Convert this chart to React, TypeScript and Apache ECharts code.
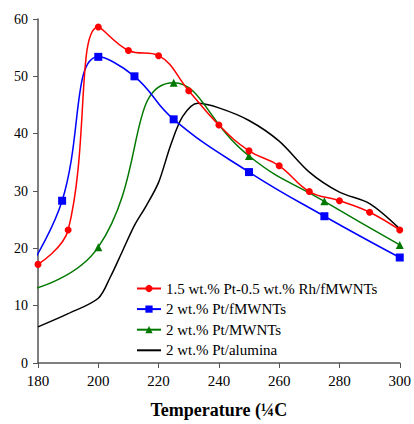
import React, { useEffect, useRef } from "react";
import * as echarts from "echarts";

const seriesNames = [
  "1.5 wt.% Pt-0.5 wt.% Rh/fMWNTs",
  "2 wt.% Pt/fMWNTs",
  "2 wt.% Pt/MWNTs",
  "2 wt.% Pt/alumina",
];

const redX = [180, 190, 200, 210, 220, 230, 240, 250, 260, 270, 280, 290, 300];
const redY = [17.2, 23.2, 58.6, 54.5, 53.6, 47.5, 41.5, 37.0, 34.4, 29.9, 28.3, 26.3, 23.2];

const blueX = [179, 188, 200, 212, 225, 250, 275, 300];
const blueY = [18.2, 28.3, 53.4, 50.0, 42.5, 33.3, 25.6, 18.4];

const greenX = [179, 200, 225, 250, 275, 300];
const greenY = [13.0, 20.2, 48.9, 36.1, 28.2, 20.6];

const blackX = [180, 190, 200, 204, 208, 212, 216, 220, 224, 228, 233, 240, 250, 260, 270, 280, 290, 300];
const blackY = [6.3, 8.6, 11.3, 15.0, 19.5, 24.0, 27.5, 31.5, 38.0, 43.0, 45.3, 44.5, 42.3, 38.7, 33.3, 29.8, 27.8, 23.4];

const xTicks = { min: 180, max: 300, interval: 20 };
const yTicks = { min: 0, max: 60, interval: 10 };

const FONT = "'Liberation Serif', 'Times New Roman', serif";

function pairs(xs: number[], ys: number[], hideFirst: boolean) {
  return xs.map((x, i) =>
    hideFirst && i === 0 ? { value: [x, ys[i]], symbol: "none" } : { value: [x, ys[i]] }
  );
}

export default function App() {
  const ref = useRef<HTMLDivElement>(null);
  useEffect(() => {
    if (!ref.current) return;
    const chart = echarts.init(ref.current, null, { renderer: "svg" });
    const axisLine = { show: true, lineStyle: { color: "#555", width: 1.5 } };
    const common = { type: "line", smoothConstraint: false, clip: false };
    chart.setOption({
      animation: false,
      backgroundColor: "#fff",
      grid: { left: 38, right: 11, top: 19, bottom: 57 },
      legend: {
        orient: "vertical",
        left: 131,
        top: 276,
        padding: 5,
        itemWidth: 24,
        itemHeight: 9,
        itemGap: 5.6,
        textStyle: { fontFamily: FONT, fontSize: 15, color: "#000" },
        data: [
          { name: seriesNames[0] },
          { name: seriesNames[1] },
          { name: seriesNames[2] },
          { name: seriesNames[3], itemStyle: { opacity: 0 } },
        ],
      },
      xAxis: {
        type: "value",
        min: xTicks.min,
        max: xTicks.max,
        interval: xTicks.interval,
        axisLine,
        axisTick: { show: true, inside: false, length: 5, lineStyle: { color: "#555" } },
        splitLine: { show: false },
        axisLabel: { fontFamily: FONT, fontSize: 15, color: "#000", margin: 10 },
        name: "Temperature (¼C",
        nameLocation: "middle",
        nameGap: 38,
        nameTextStyle: { fontFamily: FONT, fontSize: 18, fontWeight: "bold", color: "#000" },
      },
      yAxis: {
        type: "value",
        min: yTicks.min,
        max: yTicks.max,
        interval: yTicks.interval,
        axisLine,
        axisTick: { show: true, inside: false, length: 5, lineStyle: { color: "#555" } },
        splitLine: { show: false },
        axisLabel: { fontFamily: FONT, fontSize: 14, color: "#000", margin: 10 },
      },
      series: [
        {
          ...common,
          smooth: 0.42,
          name: seriesNames[0],
          data: pairs(redX, redY, false),
          symbol: "circle",
          symbolSize: 7,
          itemStyle: { color: "#ff0000" },
          lineStyle: { color: "#ff0000", width: 1.5 },
          z: 5,
        },
        {
          ...common,
          smooth: 0.45,
          name: seriesNames[1],
          data: pairs(blueX, blueY, true),
          symbol: "rect",
          symbolSize: 8,
          itemStyle: { color: "#0000ff" },
          lineStyle: { color: "#0000ff", width: 1.5 },
          z: 4,
        },
        {
          ...common,
          smooth: 0.5,
          name: seriesNames[2],
          data: pairs(greenX, greenY, true),
          symbol: "triangle",
          symbolSize: 8,
          itemStyle: { color: "#007800" },
          lineStyle: { color: "#007800", width: 1.5 },
          z: 3,
        },
        {
          ...common,
          smooth: 0.3,
          name: seriesNames[3],
          data: pairs(blackX, blackY, false),
          symbol: "none",
          itemStyle: { color: "#000" },
          lineStyle: { color: "#000", width: 1.5 },
          z: 2,
        },
      ],
    });
    return () => chart.dispose();
  }, []);
  return <div ref={ref} style={{ width: 414, height: 424, position: "absolute", left: 0, top: 0 }} />;
}
